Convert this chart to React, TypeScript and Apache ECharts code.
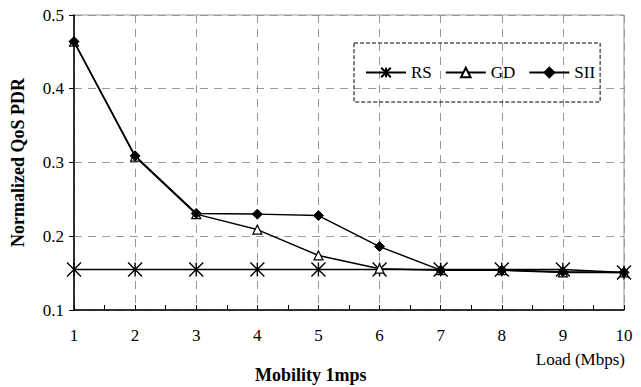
import React, { useEffect, useRef } from "react";
import * as echarts from "echarts";

const loads = [1, 2, 3, 4, 5, 6, 7, 8, 9, 10];
const rs = [0.155, 0.155, 0.155, 0.155, 0.155, 0.155, 0.155, 0.155, 0.155, 0.151];
const gd = [0.464, 0.308, 0.23, 0.209, 0.174, 0.156, 0.154, 0.154, 0.151, 0.151];
const sii = [0.464, 0.309, 0.231, 0.23, 0.228, 0.186, 0.154, 0.154, 0.152, 0.151];
const yRange = [0.1, 0.5];

const FONT = "Liberation Serif, Times New Roman, serif";
const ASTERISK = "path://M0,0L10,10M10,0L0,10M5,0L5,10";

export default function App() {
  const ref = useRef<HTMLDivElement>(null);
  useEffect(() => {
    const chart = echarts.init(ref.current!, null, { renderer: "svg" });
    const pair = (arr: number[]) => loads.map((x, i) => [x, arr[i]]);
    chart.setOption({
      animation: false,
      textStyle: { fontFamily: FONT, color: "#000" },
      title: [
        {
          text: "Mobility 1mps",
          left: 255,
          top: 366,
          padding: 0,
          textStyle: { fontFamily: FONT, fontSize: 18, fontWeight: "bold", color: "#000" },
        },
        {
          text: "Load (Mbps)",
          right: 16,
          top: 351,
          padding: 0,
          textStyle: { fontFamily: FONT, fontSize: 17, fontWeight: "normal", color: "#000" },
        },
      ],
      grid: {
        left: 74,
        right: 17,
        top: 15,
        bottom: 77,
        show: true,
        borderColor: "#999",
        borderWidth: 1,
      },
      legend: {
        left: 354,
        top: 43,
        padding: [21, 5, 21, 11],
        borderColor: "#000",
        borderWidth: 1,
        borderType: "dashed",
        itemWidth: 40,
        itemHeight: 12,
        itemGap: 13,
        textStyle: { fontFamily: FONT, fontSize: 17, color: "#000" },
        data: ["RS", "GD", "SII"],
      },
      xAxis: {
        type: "value",
        min: loads[0],
        max: loads[loads.length - 1],
        interval: 1,
        axisLine: { show: true, lineStyle: { color: "#000", width: 1.5 } },
        axisTick: { show: true, inside: true, length: 5, lineStyle: { color: "#000" } },
        minorTick: { show: true, splitNumber: 2, length: 5, lineStyle: { color: "#000" } },
        axisLabel: { fontFamily: FONT, fontSize: 17, color: "#000", margin: 17 },
        splitLine: { show: true, lineStyle: { color: "#999", type: [8, 6] } },
      },
      yAxis: {
        type: "value",
        min: yRange[0],
        max: yRange[1],
        interval: 0.1,
        name: "Normalized QoS PDR",
        nameLocation: "middle",
        nameGap: 47,
        nameTextStyle: { fontFamily: FONT, fontSize: 18, fontWeight: "bold", color: "#000" },
        axisLine: { show: true, lineStyle: { color: "#000", width: 1.5 } },
        axisTick: { show: true, length: 5, lineStyle: { color: "#000" } },
        axisLabel: {
          fontFamily: FONT,
          fontSize: 17,
          color: "#000",
          margin: 10,
          formatter: (v: number) => v.toFixed(1),
        },
        splitLine: { show: true, lineStyle: { color: "#999", type: [8, 6] } },
      },
      series: [
        {
          name: "RS",
          type: "line",
          data: pair(rs),
          symbol: ASTERISK,
          symbolSize: 14,
          lineStyle: { color: "#000", width: 1.5 },
          itemStyle: { color: "#000", borderColor: "#000", borderWidth: 1.4 },
          z: 3,
        },
        {
          name: "GD",
          type: "line",
          data: pair(gd),
          symbol: "triangle",
          symbolSize: 9,
          lineStyle: { color: "#000", width: 1.5 },
          itemStyle: { color: "#fff", borderColor: "#000", borderWidth: 1.2 },
          z: 4,
        },
        {
          name: "SII",
          type: "line",
          data: pair(sii),
          symbol: "diamond",
          symbolSize: 10,
          lineStyle: { color: "#000", width: 1.5 },
          itemStyle: { color: "#000", borderColor: "#000", borderWidth: 1 },
          z: 5,
        },
      ],
    });
    return () => chart.dispose();
  }, []);
  return <div ref={ref} style={{ width: 641, height: 387, position: "absolute", left: 0, top: 0 }} />;
}
